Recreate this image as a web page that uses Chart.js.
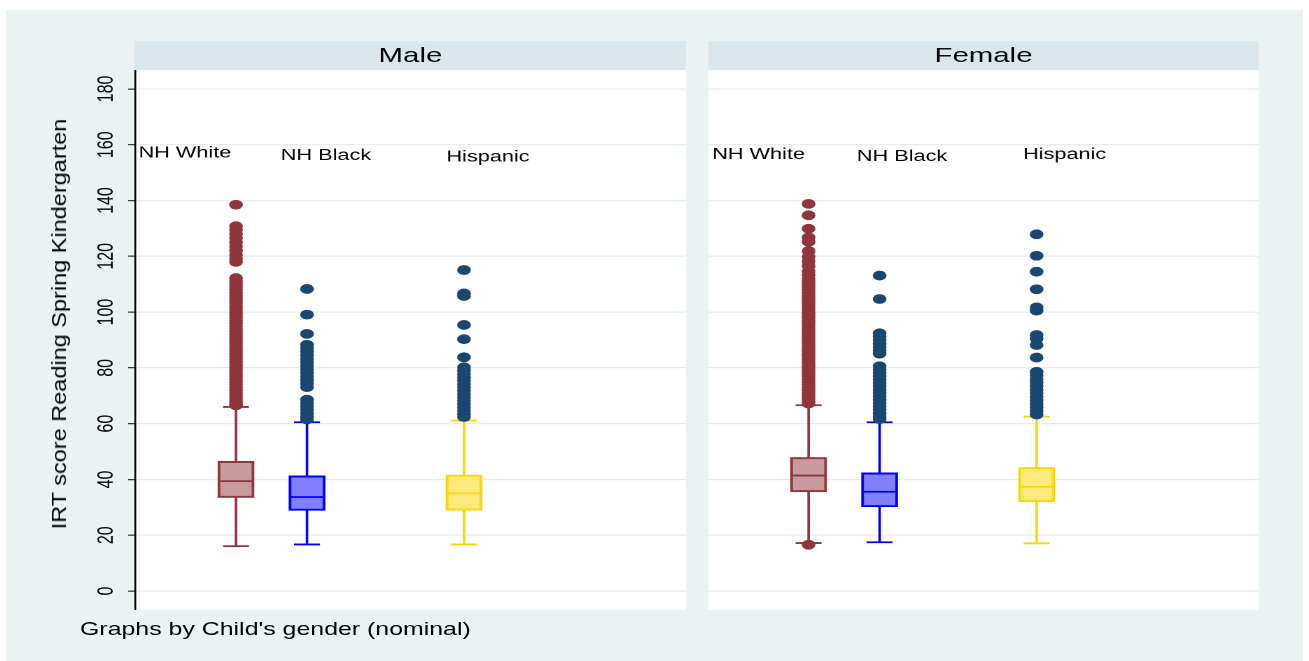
<!DOCTYPE html>
<html>
<head>
<meta charset="utf-8">
<title>IRT score Reading Spring Kindergarten</title>
<script src="https://cdn.jsdelivr.net/npm/chart.js@4.4.1/dist/chart.umd.min.js"></script>
<style>
  html, body { margin:0; padding:0; width:1309px; height:661px; overflow:hidden; background:#ffffff; }
  body { position:relative; font-family:"Liberation Sans", Arial, Helvetica, sans-serif; color:#000; }
  #graphRegion { position:absolute; left:6px; top:10px; width:1297px; height:651px; background:#EAF2F3; }
  #stretch { position:absolute; left:0; top:0; height:661px; transform-origin:0 0; }
  .strip { position:absolute; background:#D9E6EB; text-align:center; font-size:21px; white-space:nowrap; }
  .plotRegion { position:absolute; background:#ffffff; }
  .panelBox { position:absolute; }
  .panelBox canvas { position:absolute; left:0; top:0; }
  .note { position:absolute; font-size:17.8px; line-height:20px; white-space:nowrap; }
  #yTitle { position:absolute; font-size:23.5px; line-height:1; white-space:nowrap;
            transform: translate(-50%, -50%) rotate(-90deg) scaleY(0.87); }
</style>
</head>
<body>
<div id="graphRegion"></div>
<div id="stretch"></div>
<div id="yTitle">IRT score Reading Spring Kindergarten</div>
<script>
// ---------- data ----------
const panelNames = ['Male', 'Female'];
const groupNames = ['NH White', 'NH Black', 'Hispanic'];
const yTickValues = [0, 20, 40, 60, 80, 100, 120, 140, 160, 180];
const noteText = "Graphs by Child's gender (nominal)";

// box summaries, one entry per group (NH White, NH Black, Hispanic)
const maleLowerWhisker = [16.1, 16.7, 16.7];
const maleQ1           = [33.5, 28.9, 29.0];
const maleMedian       = [39.4, 33.7, 35.0];
const maleQ3           = [46.5, 41.3, 41.6];
const maleUpperWhisker = [66.0, 60.5, 61.1];

const femaleLowerWhisker = [17.2, 17.5, 17.1];
const femaleQ1           = [35.6, 30.2, 32.0];
const femaleMedian       = [41.4, 35.6, 37.4];
const femaleQ3           = [47.9, 42.4, 44.3];
const femaleUpperWhisker = [66.6, 60.5, 62.5];

// values outside the whiskers
const maleOutliersWhite = [138.5, 130.8, 129.5, 128, 126.5, 125, 123.5, 122, 120.5, 119.2, 118,
  112.2, 111, 110, 109, 108, 107, 106, 105, 104, 103, 102, 101, 100, 99, 98, 97, 96, 95, 94, 93,
  92, 91, 90, 89, 88, 87, 86, 85, 84, 83, 82, 81, 80, 79, 78, 77, 76, 75, 74, 73, 72, 71, 70,
  69, 68, 67, 66.6];
const maleOutliersBlack = [108.3, 99.1, 92.2, 88.3, 87, 85.8, 84.5, 83.2, 82, 80.7, 79.4, 78.2,
  76.9, 75.6, 74.4, 73.1, 68.6, 67.4, 66.2, 65, 63.8, 62.6, 61.5];
const maleOutliersHispanic = [115.1, 106.7, 105.8, 95.4, 90.3, 83.8, 80.2, 79, 77.8, 76.6, 75.4,
  74.2, 73, 71.8, 70.6, 69.4, 68.2, 67, 65.8, 64.6, 63.4, 62.4];

const femaleOutliersWhite = [138.8, 134.7, 129.9, 126.8, 125.2, 121.9, 119.9, 118.2, 116.5, 114.5,
  113.3, 112, 111, 110, 109, 108, 107, 106, 105, 104, 103, 102, 101, 100, 99, 98, 97, 96, 95, 94,
  93, 92, 91, 90, 89, 88, 87, 86, 85, 84, 83, 82, 81, 80, 79, 78, 77, 76, 75, 74, 73, 72, 71, 70,
  69, 68, 67.2, 16.6];
const femaleOutliersBlack = [113.1, 104.7, 92.4, 91.2, 90, 88.7, 87.5, 86.3, 85.1, 80.6, 79.4,
  78.2, 77, 75.8, 74.6, 73.4, 72.2, 71, 69.8, 68.6, 67.4, 66.2, 65, 63.7, 62.6, 61.6];
const femaleOutliersHispanic = [127.9, 120.2, 114.5, 108.2, 101.7, 100.5, 91.8, 90.5, 88.2, 83.7,
  78.6, 77.3, 76, 74.8, 73.5, 72.2, 71, 69.7, 68.4, 67.1, 65.9, 64.6, 63.3];

// ---------- layout & style ----------
const SX = 1.4;                 // the exported graph is stretched horizontally
const PAGE_W = 1309;
const PANEL_W = 551;
const panelLeft = [135, 708];
const AXIS_W = 135;
const STRIP_TOP = 41, PLOT_TOP = 70, PLOT_BOTTOM = 610;
const Y_MIN = -6.8, Y_MAX = 186.8;
const groupX = [101, 172, 329];          // box centres, px from the panel's left edge
const BOX_W = 36, CAP_W = 26;
const fillColors = ['#C89A9D', '#8080FF', '#FFEA80'];
const lineColors = ['#90353B', '#0000FF', '#FFD400'];
const outlierColors = ['#90353B', '#1A476F', '#1A476F'];
// [x in panel px, y in score units] where each group name is written
const labelSpots = [
  [[50, 157], [191, 156], [353, 155.5]],
  [[51, 156.5], [194.5, 155.7], [357, 156.4]]
];
const FONT = '"Liberation Sans", Arial, Helvetica, sans-serif';

const panelStats = [
  { lo: maleLowerWhisker, q1: maleQ1, med: maleMedian, q3: maleQ3, hi: maleUpperWhisker,
    out: [maleOutliersWhite, maleOutliersBlack, maleOutliersHispanic] },
  { lo: femaleLowerWhisker, q1: femaleQ1, med: femaleMedian, q3: femaleQ3, hi: femaleUpperWhisker,
    out: [femaleOutliersWhite, femaleOutliersBlack, femaleOutliersHispanic] }
];

Chart.defaults.font.family = FONT;

// ---------- page furniture ----------
const stretch = document.getElementById('stretch');
stretch.style.width = (PAGE_W / SX) + 'px';
stretch.style.transform = 'scaleX(' + SX + ')';

function addBox(cls, left, top, w, h) {
  const d = document.createElement('div');
  d.className = cls;
  d.style.left = (left / SX) + 'px';
  d.style.top = top + 'px';
  if (w != null) d.style.width = (w / SX) + 'px';
  if (h != null) d.style.height = h + 'px';
  stretch.appendChild(d);
  return d;
}

const yTitle = document.getElementById('yTitle');
yTitle.style.left = '60.2px';
yTitle.style.top = '323.5px';

panelNames.forEach((name, p) => {
  const strip = addBox('strip', panelLeft[p], STRIP_TOP, PANEL_W, PLOT_TOP - STRIP_TOP);
  strip.style.lineHeight = (PLOT_TOP - STRIP_TOP - 2) + 'px';
  strip.textContent = name;
  addBox('plotRegion', panelLeft[p], PLOT_TOP, PANEL_W, PLOT_BOTTOM - PLOT_TOP);
});

const note = addBox('note', 80, 619.4, null, null);
note.textContent = noteText;

// group names written inside each panel
const groupLabelPlugin = {
  id: 'groupLabels',
  afterDatasetsDraw(chart, args, opts) {
    const { ctx } = chart;
    const xs = chart.scales.x, ys = chart.scales.y;
    ctx.save();
    ctx.font = '15.5px ' + FONT;
    ctx.fillStyle = '#000';
    ctx.textAlign = 'center';
    ctx.textBaseline = 'middle';
    opts.spots.forEach((s, i) => {
      ctx.fillText(groupNames[i], xs.getPixelForValue(s[0]), ys.getPixelForValue(s[1]));
    });
    ctx.restore();
  }
};

function buildPanel(p) {
  const st = panelStats[p];
  const showAxis = p === 0;

  const holder = addBox('panelBox', panelLeft[p] - AXIS_W, PLOT_TOP, AXIS_W + PANEL_W, PLOT_BOTTOM - PLOT_TOP);
  const canvas = document.createElement('canvas');
  canvas.width = Math.round((AXIS_W + PANEL_W) / SX);
  canvas.height = PLOT_BOTTOM - PLOT_TOP;
  holder.appendChild(canvas);

  const datasets = [];
  // boxes (interquartile range)
  datasets.push({
    type: 'bar',
    data: groupNames.map((g, i) => ({ x: groupX[i], y: [st.q1[i], st.q3[i]] })),
    backgroundColor: fillColors,
    borderColor: lineColors,
    borderWidth: 2,
    borderSkipped: false,
    barThickness: BOX_W / SX,
    grouped: false,
    order: 3
  });
  groupNames.forEach((g, i) => {
    const c = groupX[i];
    const gap = { x: c, y: null };
    // whiskers, caps and median line
    datasets.push({
      type: 'line',
      data: [
        { x: c, y: st.q3[i] }, { x: c, y: st.hi[i] }, gap,
        { x: c - CAP_W / 2, y: st.hi[i] }, { x: c + CAP_W / 2, y: st.hi[i] }, gap,
        { x: c, y: st.q1[i] }, { x: c, y: st.lo[i] }, gap,
        { x: c - CAP_W / 2, y: st.lo[i] }, { x: c + CAP_W / 2, y: st.lo[i] }, gap,
        { x: c - BOX_W / 2, y: st.med[i] }, { x: c + BOX_W / 2, y: st.med[i] }
      ],
      borderColor: lineColors[i],
      borderWidth: 1.8,
      pointRadius: 0,
      spanGaps: false,
      fill: false,
      tension: 0,
      order: 2
    });
    // outside values
    datasets.push({
      type: 'scatter',
      data: st.out[i].map(v => ({ x: c, y: v })),
      pointRadius: 4.9,
      pointBorderWidth: 0,
      backgroundColor: outlierColors[i],
      pointBackgroundColor: outlierColors[i],
      order: 1
    });
  });

  return new Chart(canvas, {
    type: 'bar',
    data: { datasets },
    plugins: [groupLabelPlugin],
    options: {
      responsive: false,
      devicePixelRatio: 2,
      animation: false,
      events: [],
      layout: { padding: 0, autoPadding: false },
      plugins: {
        legend: { display: false },
        tooltip: { enabled: false },
        groupLabels: { spots: labelSpots[p] }
      },
      scales: {
        x: { type: 'linear', min: 0, max: PANEL_W, offset: false, display: false },
        y: {
          type: 'linear',
          min: Y_MIN,
          max: Y_MAX,
          afterBuildTicks: s => { s.ticks = yTickValues.map(v => ({ value: v })); },
          afterFit: s => {
            s.width = AXIS_W / SX;
            s.paddingTop = 0;
            s.paddingBottom = 0;
          },
          ticks: {
            display: showAxis,
            color: '#000',
            font: { size: 16 },
            minRotation: 90,
            maxRotation: 90,
            crossAlign: 'center',
            padding: 2
          },
          grid: {
            color: '#E4EDF0',
            lineWidth: 1.3,
            drawTicks: showAxis,
            tickLength: 5,
            tickColor: '#333',
            tickWidth: 1.2
          },
          border: { display: showAxis, color: '#000', width: 1.3 }
        }
      }
    }
  });
}

buildPanel(0);
buildPanel(1);
</script>
</body>
</html>
